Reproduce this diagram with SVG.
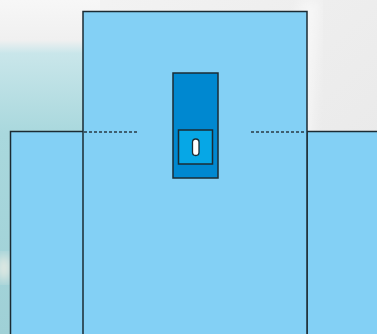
<svg xmlns="http://www.w3.org/2000/svg" width="377" height="334" viewBox="0 0 377 334">
<defs>
<linearGradient id="bgL" x1="0" y1="0" x2="0" y2="1">
<stop offset="0" stop-color="#f7f7f7"/>
<stop offset="0.12" stop-color="#f0f0f0"/>
<stop offset="0.16" stop-color="#c9e6ea"/>
<stop offset="0.4" stop-color="#a9d8dd"/>
<stop offset="1" stop-color="#9fd0d6"/>
</linearGradient>
<linearGradient id="bgR" x1="0" y1="0" x2="1" y2="1">
<stop offset="0" stop-color="#f4f4f4"/>
<stop offset="1" stop-color="#e6e6e6"/>
</linearGradient>
<filter id="blur"><feGaussianBlur stdDeviation="6"/></filter>
<style>
.box{fill:#83d0f5;stroke:#1b2b33;stroke-width:1.5}
.dash{fill:none;stroke:#2a3a44;stroke-width:1.5;stroke-dasharray:3 2}
</style>
</defs>
<g id="background">
<rect x="0" y="0" width="377" height="334" fill="url(#bgR)"/>
<rect x="0" y="0" width="100" height="334" fill="url(#bgL)"/>
<ellipse cx="4" cy="268" rx="6" ry="14" fill="#f4f0e6" filter="url(#blur)"/>
<path d="M300 0 L320 0 L300 334 L290 334 Z" fill="#ffffff" opacity="0.5" filter="url(#blur)"/>
</g>
<g id="left-node"><rect class="box" x="10.5" y="131.5" width="80" height="210"/></g>
<g id="right-node"><rect class="box" x="307" y="131.5" width="80" height="210"/></g>
<g id="main-node"><rect class="box" x="83" y="11.5" width="224" height="330"/></g>
<g id="connectors">
<line class="dash" x1="84" y1="132" x2="138" y2="132"/>
<line class="dash" x1="251" y1="132" x2="306" y2="132"/>
</g>
<g id="switch-node">
<rect x="173" y="73" width="45" height="105" fill="#0088d0" stroke="#1b2b33" stroke-width="1.5"/>
<rect x="178.5" y="130" width="34" height="34" fill="#06a7e6" stroke="#1b2b33" stroke-width="1.5"/>
<rect x="192.5" y="139" width="6.5" height="16.5" rx="3.2" fill="#ffffff" stroke="#1b2b33" stroke-width="1.3"/>
</g>
</svg>
